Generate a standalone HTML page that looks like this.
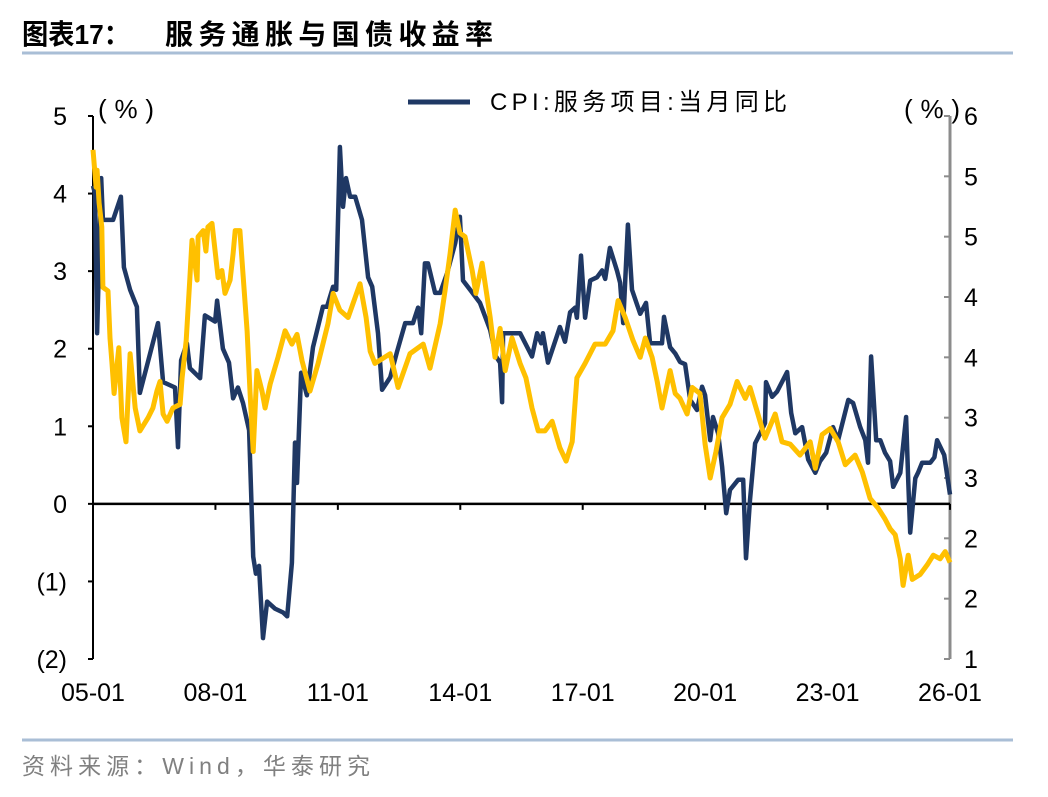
<!DOCTYPE html>
<html><head><meta charset="utf-8">
<style>
body{margin:0;background:#fff;}
svg text{font-family:"Liberation Sans","Noto Sans CJK SC",sans-serif;}
</style></head>
<body>
<svg id="chart" width="1048" height="792" xmlns="http://www.w3.org/2000/svg">
<text x="22" y="44" font-size="28" font-weight="bold" fill="#000" textLength="108" lengthAdjust="spacingAndGlyphs">图表17：</text>
<text x="165" y="44" font-size="28" font-weight="bold" fill="#000" textLength="328" lengthAdjust="spacing">服务通胀与国债收益率</text>
<line x1="22" y1="53" x2="1013" y2="53" stroke="#A9BED6" stroke-width="3"/>
<line x1="22" y1="740" x2="1013" y2="740" stroke="#A9BED6" stroke-width="3"/>
<text x="22" y="774" font-size="23" fill="#808080" textLength="348" lengthAdjust="spacing">资料来源：Wind，华泰研究</text>
<line x1="408" y1="102" x2="470" y2="102" stroke="#1F3864" stroke-width="5"/>
<text x="490" y="110" font-size="24" fill="#000" textLength="297" lengthAdjust="spacing">CPI:服务项目:当月同比</text>
<text x="98" y="118" font-size="26" fill="#000" textLength="56" lengthAdjust="spacing">(%)</text>
<text x="904" y="118" font-size="26" fill="#000" textLength="56" lengthAdjust="spacing">(%)</text>
<g id="axes"></g>
<g id="series"></g>
</svg>
<script>
const leftTicks=[5,4,3,2,1,0,-1,-2];
const leftTickLabels=['5','4','3','2','1','0','(1)','(2)'];
const rightTicks=[6,5.5,5,4.5,4,3.5,3,2.5,2,1.5];
const rightTickLabels=['6','5','5','4','4','3','3','2','2','1'];
const xTickMonths=[0,36,72,108,144,180,216,252];
const xTickLabels=['05-01','08-01','11-01','14-01','17-01','20-01','23-01','26-01'];
const cpiMonths=[0,0.6,1.2,2.4,2.9,5.9,8.2,9.1,10.9,12.9,13.8,19.1,20.6,24.1,25.0,25.9,27.6,28.5,31.5,32.9,35.9,36.5,38.2,40.0,41.2,42.6,44.1,45.9,47.1,47.9,48.8,50.0,51.2,53.5,55.9,57.1,58.5,59.4,60.0,61.2,62.9,64.7,67.6,68.8,70.6,71.5,72.6,73.5,74.4,75.6,77.1,79.1,80.9,82.1,83.8,85.0,87.4,89.4,91.8,94.1,95.6,96.5,97.6,98.5,100.6,102.1,104.1,106.5,107.9,108.8,110.9,113.8,116.8,118.5,119.7,120.3,120.6,125.6,129.1,130.6,131.8,132.3,133.8,137.3,138.8,140.3,141.8,142.3,143.5,144.7,146.2,148.2,149.7,150.6,152.0,154.1,155.0,155.9,157.3,158.5,160.9,162.6,163.8,167.3,167.9,169.7,171.2,172.6,174.1,175.6,177.6,179.1,180.0,181.5,182.3,183.8,185.0,186.2,187.3,189.7,191.2,192.0,193.2,194.7,196.2,197.6,197.9,199.7,201.2,204.1,205.3,206.5,208.5,210.3,212.4,213.8,215.6,217.6,219.1,222.1,223.5,225.6,227.1,227.9,228.8,230.3,231.5,232.9,234.4,235.3,237.4,239.1,239.7,240.3,241.8,242.6,243.8,246.2,247.4,248.2,250.3,252.0];
const cpiValues=[4.1,4.0,2.2,4.2,3.66,3.66,3.96,3.05,2.76,2.54,1.43,2.33,1.57,1.5,0.73,1.85,2.07,1.75,1.62,2.43,2.35,2.62,2.0,1.82,1.36,1.5,1.3,0.95,-0.68,-0.9,-0.8,-1.73,-1.26,-1.35,-1.4,-1.45,-0.76,0.79,0.27,1.69,1.4,2.02,2.54,2.54,2.8,2.76,4.6,3.83,4.2,3.96,3.96,3.66,2.92,2.8,2.2,1.47,1.63,1.96,2.33,2.33,2.53,2.2,3.1,3.1,2.72,2.72,2.97,3.36,3.7,2.88,2.76,2.59,2.24,1.9,1.82,1.31,2.2,2.2,1.9,2.2,2.07,2.2,1.82,2.28,2.09,2.47,2.53,2.4,3.2,2.4,2.88,2.92,3.01,2.9,3.3,3.0,2.85,2.33,3.6,2.76,2.45,2.59,2.07,2.07,2.41,2.02,1.94,1.83,1.8,1.34,1.21,1.51,1.4,0.82,1.12,0.91,0.48,-0.12,0.18,0.31,0.31,-0.7,0.05,0.78,0.91,1.04,1.57,1.38,1.45,1.7,1.17,0.91,0.99,0.57,0.4,0.55,0.66,0.99,0.82,1.34,1.3,0.99,0.82,0.53,1.9,0.82,0.82,0.66,0.55,0.22,0.4,1.12,0.31,-0.37,0.33,0.4,0.53,0.53,0.6,0.82,0.63,0.12];
const yieldMonths=[0,0.9,1.2,1.8,2.6,2.9,4.4,5.0,5.6,6.2,7.6,8.5,9.7,10.9,12.4,13.8,16.2,17.6,18.8,19.7,20.6,21.8,23.5,25.6,26.2,27.4,28.5,29.1,30.6,30.9,32.4,33.2,33.8,35.0,36.8,37.9,38.8,40.3,41.2,41.8,43.2,44.1,45.3,46.2,47.1,48.2,49.7,50.6,52.1,54.4,56.5,58.5,60.0,61.5,63.8,66.2,69.1,70.6,72.6,75.0,78.5,80.3,81.5,82.9,87.4,89.7,93.2,97.1,99.1,102.1,103.5,105.0,106.5,107.9,109.4,111.5,112.6,114.4,116.8,118.2,119.7,121.2,123.2,125.6,127.3,129.1,130.9,132.9,135.0,137.3,139.1,140.9,142.3,144.7,147.6,150.6,152.9,154.4,156.5,158.8,160.9,162.4,164.4,165.9,167.3,169.7,171.2,172.6,174.7,176.2,178.5,180.0,181.5,183.2,185.0,187.3,189.4,191.8,193.2,195.3,197.6,200.6,202.6,205.0,207.9,210.9,212.4,214.4,216.8,219.1,221.2,224.1,226.2,228.5,230.9,232.9,234.4,235.9,237.4,238.2,239.7,240.9,243.2,245.3,247.1,249.1,250.6,252.0];
const yieldValues=[5.72,5.41,5.55,5.28,5.08,4.58,4.55,4.16,3.95,3.7,4.08,3.5,3.3,4.03,3.58,3.39,3.5,3.58,3.72,3.8,3.53,3.47,3.58,3.61,3.83,4.14,4.66,4.97,4.64,5.0,5.05,4.88,5.08,5.11,4.66,4.72,4.53,4.64,4.86,5.05,5.05,4.69,4.22,3.7,3.22,3.89,3.72,3.58,3.78,4.0,4.22,4.11,4.19,3.97,3.72,3.95,4.28,4.53,4.39,4.33,4.61,4.33,4.05,3.95,4.03,3.75,4.03,4.11,3.91,4.28,4.55,4.86,5.22,5.03,5.0,4.72,4.53,4.78,4.33,4.0,4.24,3.89,4.16,3.95,3.83,3.58,3.39,3.39,3.47,3.25,3.14,3.3,3.83,3.95,4.11,4.11,4.22,4.47,4.33,4.14,4.0,4.16,4.0,3.8,3.58,3.89,3.7,3.66,3.53,3.75,3.7,3.28,3.0,3.22,3.5,3.61,3.8,3.66,3.75,3.55,3.33,3.53,3.3,3.28,3.19,3.3,3.08,3.36,3.41,3.3,3.11,3.19,3.05,2.83,2.75,2.66,2.58,2.53,2.33,2.11,2.36,2.16,2.2,2.28,2.36,2.33,2.39,2.3];

const NS='http://www.w3.org/2000/svg';
const X0=93,X1=950,YT=116,YB=659;
function xs(m){return X0+(m/252)*(X1-X0);}
function yl(v){return YT+(5-v)/7*(YB-YT);}
function yr(v){return YT+(6-v)/4.5*(YB-YT);}
function mk(tag,attrs,parent){const e=document.createElementNS(NS,tag);for(const k in attrs)e.setAttribute(k,attrs[k]);parent.appendChild(e);return e;}
const axes=document.getElementById('axes'),series=document.getElementById('series');

let e=mk('line',{x1:X0,y1:YT,x2:X0,y2:YB,stroke:'#000','stroke-width':2},axes);


e=mk('line',{x1:X1,y1:YT,x2:X1,y2:YB,stroke:'#8c8c8c','stroke-width':3},axes);


e=mk('line',{x1:X0,y1:yl(0),x2:X1,y2:yl(0),stroke:'#000','stroke-width':2.5},axes);



leftTicks.forEach((v,i)=>{
  const y=yl(v);
  let t=mk('line',{x1:X0-5,y1:y,x2:X0,y2:y,stroke:'#000','stroke-width':2},axes);
  
  
  const tx=mk('text',{x:67,y:y+9,'font-size':25,'text-anchor':'end',fill:'#000'},axes);
  tx.textContent=leftTickLabels[i];
  
  
});
rightTicks.forEach((v,i)=>{
  const y=yr(v);
  let t=mk('line',{x1:X1-6,y1:y,x2:X1,y2:y,stroke:'#8c8c8c','stroke-width':2},axes);
  
  
  const tx=mk('text',{x:964,y:y+9,'font-size':25,fill:'#000'},axes);
  tx.textContent=rightTickLabels[i];
  
  
});
xTickMonths.forEach((m,i)=>{
  const x=xs(m);
  let t=mk('line',{x1:x,y1:yl(0),x2:x,y2:yl(0)+6,stroke:'#000','stroke-width':2},axes);
  
  
  const tx=mk('text',{x:x,y:701,'font-size':25,'text-anchor':'middle',fill:'#000'},axes);
  tx.textContent=xTickLabels[i];
  
  
});

let d=cpiMonths.map((m,i)=>(i?'L':'M')+xs(m).toFixed(1)+','+yl(cpiValues[i]).toFixed(1)).join('');
let p=mk('path',{d:d,fill:'none',stroke:'#1F3864','stroke-width':4.5,'stroke-linejoin':'round'},series);


d=yieldMonths.map((m,i)=>(i?'L':'M')+xs(m).toFixed(1)+','+yr(yieldValues[i]).toFixed(1)).join('');
p=mk('path',{d:d,fill:'none',stroke:'#FFC000','stroke-width':5,'stroke-linejoin':'round'},series);


</script>
</body></html>
